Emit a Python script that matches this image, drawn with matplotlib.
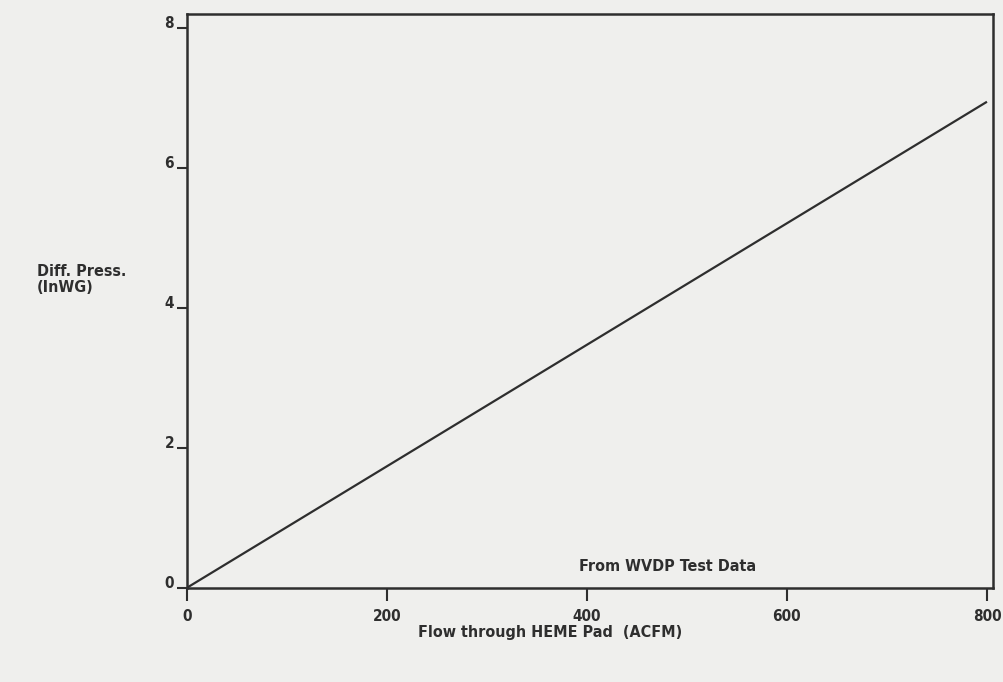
import matplotlib
matplotlib.use("Agg")
import matplotlib.pyplot as plt
import matplotlib.transforms as mtransforms

flow = [0, 800]
diff_press = [0, 6.95]
xticks = [0, 200, 400, 600, 800]
xticklabels = ["0", "200", "400", "600", "800"]
yticks = [0, 2, 4, 6, 8]
yticklabels = ["0", "2", "4", "6", "8"]

ink = "#2e2e2e"
bg = "#efefed"
font = dict(family="DejaVu Sans", stretch="condensed", weight="bold")

fig = plt.figure(figsize=(10.04, 6.82), dpi=100, facecolor=bg)
ax = fig.add_axes([0.186, 0.138, 0.803, 0.841], facecolor=bg)
ax.plot(flow, diff_press, color=ink, lw=1.6, solid_capstyle="butt")
ax.set_xlim(0, 806)
ax.set_ylim(0, 8.2)

for s in ax.spines.values():
    s.set_color(ink)
    s.set_linewidth(1.8)

ax.set_xticks(xticks)
ax.set_xticklabels(xticklabels, fontsize=11, color=ink, **font)
ax.set_yticks(yticks)
ax.set_yticklabels(yticklabels, fontsize=11, color=ink, **font)
ax.tick_params(axis="x", direction="out", length=9, width=1.5, color=ink, pad=6)
ax.tick_params(axis="y", direction="out", length=7, width=1.5, color=ink, pad=2)
offset = mtransforms.ScaledTranslation(0, 6 / 100, fig.dpi_scale_trans)
for lbl in ax.get_yticklabels():
    lbl.set_transform(lbl.get_transform() + offset)

ax.text(481, 0.3, "From WVDP Test Data", ha="center", va="center",
        fontsize=11.5, color=ink, **font)
fig.text(0.548, 0.073, "Flow through HEME Pad  (ACFM)", ha="center", va="center",
         fontsize=11.5, color=ink, **font)
fig.text(0.037, 0.59, "Diff. Press.\n(InWG)", ha="left", va="center",
         fontsize=11.5, color=ink, linespacing=1.1, **font)

fig.savefig("out.png", dpi=100, facecolor=bg)
